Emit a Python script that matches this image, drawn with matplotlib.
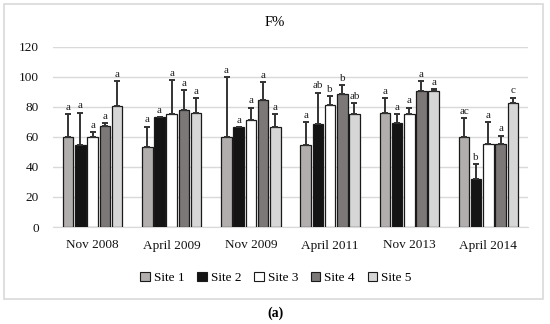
import matplotlib

matplotlib.use("Agg")
import matplotlib.pyplot as plt
import numpy as np
from matplotlib.patches import Patch, Rectangle

plt.rcParams["font.family"] = ["Liberation Serif", "DejaVu Serif"]

# data (F%)
periods = ["Nov 2008", "April 2009", "Nov 2009", "April 2011", "Nov 2013", "April 2014"]
sites = ["Site 1", "Site 2", "Site 3", "Site 4", "Site 5"]
site1 = [60, 53.5, 60, 54.6, 75.7, 60]
site2 = [54.8, 73.3, 66.2, 68.4, 68.9, 32.1]
site3 = [60, 75, 71.5, 81, 75, 55.2]
site4 = [67.3, 77.7, 84.3, 88.2, 90.4, 55.2]
site5 = [80.5, 76.1, 66.2, 75, 90.4, 82.3]
err1 = [15, 13.2, 39.7, 15.4, 10.1, 12.2]
err2 = [21.2, 0, 0, 20.9, 6.1, 9.5]
err3 = [3, 22.7, 7.9, 6.1, 4.4, 14.8]
err4 = [1.6, 13.2, 12.1, 6, 6.6, 5.5]
err5 = [16.5, 9.5, 8.8, 7.3, 1.1, 3.7]
letters1 = ["a", "a", "a", "a", "a", "ac"]
letters2 = ["a", "a", "a", "ab", "a", "b"]
letters3 = ["a", "a", "a", "b", "a", "a"]
letters4 = ["a", "a", "a", "b", "a", "a"]
letters5 = ["a", "a", "a", "ab", "a", "c"]
yticks = [0, 20, 40, 60, 80, 100, 120]

values = [site1, site2, site3, site4, site5]
errors = [err1, err2, err3, err4, err5]
letters = [letters1, letters2, letters3, letters4, letters5]
colors = ["#b2aeae", "#141414", "#ffffff", "#7d7878", "#d6d6d6"]

W, H = 550, 324
fig = plt.figure(figsize=(W / 100, H / 100), dpi=100)

# outer chart border
fig.add_artist(Rectangle((4 / W, 1 - 299 / H), 539 / W, 295 / H,
                         transform=fig.transFigure, fill=False,
                         edgecolor="#d9d9d9", linewidth=1.2))

ax = fig.add_axes([53 / W, 1 - 227 / H, 475 / W, (227 - 46.6) / H])
x = np.arange(len(periods))
pitch = 0.154
width = 0.133
for k in range(len(sites)):
    pos = x + (k - 2) * pitch
    vals = np.array(values[k])
    errs = np.array(errors[k])
    ax.bar(pos, vals, width, color=colors[k], edgecolor="#1a1a1a",
           linewidth=0.9, zorder=3)
    ax.errorbar(pos, vals, yerr=[np.zeros_like(errs), errs], fmt="none",
                ecolor="#333333", elinewidth=1.4, capsize=2.5,
                capthick=1.4, zorder=4)
    for p, top, lab in zip(pos, vals + errs, letters[k]):
        ax.text(p, top + 1.5, lab, ha="center", va="bottom", fontsize=8,
                color="#222222", zorder=5)

ax.set_xlim(-0.5, len(periods) - 0.5)
ax.set_ylim(0, 120)
ax.set_yticks(yticks)
ax.set_xticks(x, periods)
ax.tick_params(axis="both", length=0, labelsize=9.5, colors="#111111")
ax.tick_params(axis="x", pad=9)
ax.tick_params(axis="y", pad=10)
ax.grid(axis="y", color="#d9d9d9", linewidth=1, zorder=0)
for side in ["top", "right", "left"]:
    ax.spines[side].set_visible(False)
ax.spines["bottom"].set_color("#d9d9d9")

fig.text(275 / W, 1 - 22 / H, "F%", ha="center", va="center", fontsize=10.5)

handles = [Patch(facecolor=c, edgecolor="#1a1a1a", linewidth=0.8) for c in colors]
fig.legend(handles, sites, loc="center", bbox_to_anchor=(276 / W, 1 - 278 / H),
           ncol=5, frameon=False, fontsize=9.5, handlelength=0.7,
           handleheight=0.7, handletextpad=0.3, columnspacing=1.0)

fig.text(275 / W, 1 - 313 / H, "(a)", ha="center", va="center",
         fontsize=10, fontweight="bold")

fig.savefig("out.png", dpi=100)
